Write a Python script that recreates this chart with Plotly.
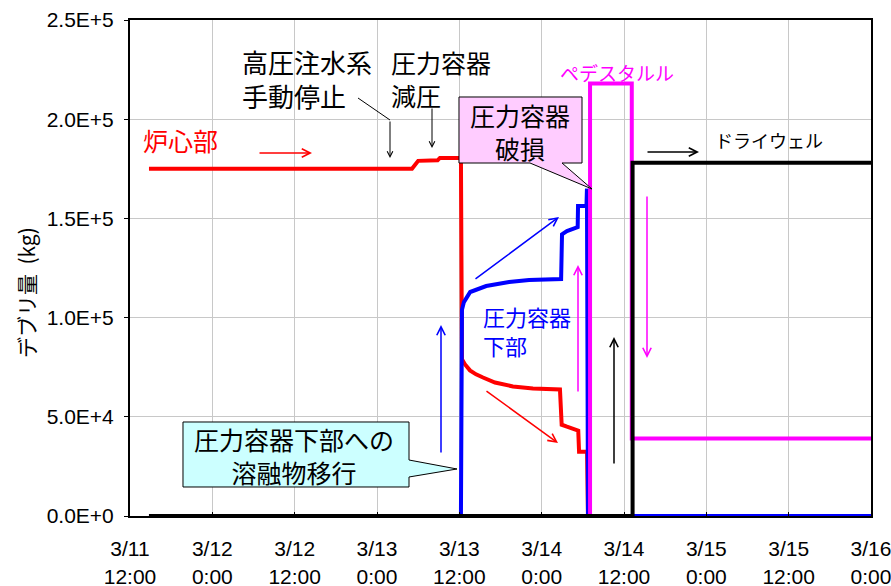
import plotly.graph_objects as go

# ---------------- data ----------------
red_t = ["2011-03-11 14:46", "2011-03-13 05:06", "2011-03-13 06:00", "2011-03-13 08:50",
         "2011-03-13 09:10", "2011-03-13 12:14", "2011-03-13 12:23", "2011-03-13 12:50",
         "2011-03-13 13:33", "2011-03-13 14:26", "2011-03-13 15:27", "2011-03-13 17:12",
         "2011-03-13 19:49", "2011-03-13 22:44", "2011-03-14 02:40", "2011-03-14 02:55",
         "2011-03-14 03:41", "2011-03-14 05:09", "2011-03-14 05:20", "2011-03-14 05:27",
         "2011-03-14 06:37", "2011-03-14 06:45", "2011-03-16 00:00"]
red_v = [175000, 175000, 179000, 179300,
         180500, 180500, 79000, 76400,
         73400, 71400, 69800, 67300,
         65300, 64300, 63800, 46000,
         45000, 43500, 43000, 32400,
         32400, 0, 0]

blue_t = ["2011-03-11 14:46", "2011-03-13 12:14", "2011-03-13 12:23", "2011-03-13 12:40",
          "2011-03-13 13:35", "2011-03-13 15:55", "2011-03-13 19:15", "2011-03-13 22:10",
          "2011-03-14 02:50", "2011-03-14 02:58", "2011-03-14 03:41", "2011-03-14 05:15",
          "2011-03-14 05:18", "2011-03-14 06:32", "2011-03-14 06:36", "2011-03-14 06:45",
          "2011-03-16 00:00"]
blue_v = [0, 0, 104000, 107800,
          112900, 115900, 117900, 118900,
          119400, 142000, 143600, 145600,
          156300, 156300, 165000, 0,
          0]

mag_t = ["2011-03-11 14:46", "2011-03-14 07:03", "2011-03-14 07:03", "2011-03-14 13:08",
         "2011-03-14 13:08", "2011-03-16 00:00"]
mag_v = [0, 0, 218000, 218000, 39000, 39000]

blk_t = ["2011-03-11 14:46", "2011-03-14 13:15", "2011-03-14 13:15", "2011-03-16 00:00"]
blk_v = [0, 0, 178000, 178000]

x_tickvals = ["2011-03-11 12:00", "2011-03-12 00:00", "2011-03-12 12:00", "2011-03-13 00:00",
              "2011-03-13 12:00", "2011-03-14 00:00", "2011-03-14 12:00", "2011-03-15 00:00",
              "2011-03-15 12:00", "2011-03-16 00:00"]
x_ticktext = ["3/11<br>12:00", "3/12<br>0:00", "3/12<br>12:00", "3/13<br>0:00", "3/13<br>12:00",
              "3/14<br>0:00", "3/14<br>12:00", "3/15<br>0:00", "3/15<br>12:00", "3/16<br>0:00"]
y_tickvals = [0, 50000, 100000, 150000, 200000, 250000]
y_ticktext = ["0.0E+0", "5.0E+4", "1.0E+5", "1.5E+5", "2.0E+5", "2.5E+5"]

# ---------------- layout helpers (pixel -> paper) ----------------
L, R, T, B = 130, 871, 20, 516
def X(px):
    return (px - L) / (R - L)
def Y(py):
    return (B - py) / (B - T)

JP = "Noto Sans CJK JP"
NUM = "Liberation Sans, Arial, sans-serif"

fig = go.Figure()
fig.add_trace(go.Scatter(x=red_t, y=red_v, mode="lines", line=dict(color="#FF0000", width=4), showlegend=False))
fig.add_trace(go.Scatter(x=blue_t, y=blue_v, mode="lines", line=dict(color="#0000FF", width=4), showlegend=False))
fig.add_trace(go.Scatter(x=mag_t, y=mag_v, mode="lines", line=dict(color="#FF00FF", width=4), showlegend=False))
fig.add_trace(go.Scatter(x=blk_t, y=blk_v, mode="lines", line=dict(color="#000000", width=4), showlegend=False))

shapes = []
def path(pts):
    return "M " + " L ".join(f"{X(a):.5f},{Y(b):.5f}" for a, b in pts) + " Z"
# pink callout (box + pointer)
shapes.append(dict(type="path", xref="paper", yref="paper", layer="above",
                   path=path([(459, 97), (582, 97), (582, 163), (562, 163), (592, 189), (530, 163), (459, 163)]),
                   fillcolor="#FFCCFF", line=dict(color="#000000", width=1)))
# cyan callout
shapes.append(dict(type="path", xref="paper", yref="paper", layer="above",
                   path=path([(183, 422), (409, 422), (409, 460), (457, 469), (409, 477), (409, 487), (183, 487)]),
                   fillcolor="#CCFFFF", line=dict(color="#000000", width=1)))
# bent leader line
shapes.append(dict(type="line", xref="paper", yref="paper", layer="above",
                   x0=X(358), y0=Y(98), x1=X(390), y1=Y(120), line=dict(color="#000000", width=1)))

ann = []
def text(s, px, py, color="#000000", size=25, xanchor="left", align="left"):
    ann.append(dict(text=s, x=X(px), y=Y(py), xref="paper", yref="paper", showarrow=False,
                    xanchor=xanchor, yanchor="middle", align=align,
                    font=dict(family=JP, size=size, color=color)))
def arrow(tail, tip, color, width=1.5):
    ann.append(dict(text="", x=X(tip[0]), y=Y(tip[1]), xref="paper", yref="paper",
                    ax=tail[0] - tip[0], ay=tail[1] - tip[1], showarrow=True,
                    arrowhead=5, arrowsize=1.1, arrowwidth=width, arrowcolor=color, standoff=0))

text("高圧注水系<br>手動停止", 240, 78, size=26)
text("圧力容器<br>減圧", 389, 78)
text("炉心部", 141, 140, color="#FF0000")
text("圧力容器<br>破損", 520, 131, xanchor="center", align="center")
text("ペデスタルル", 558, 72, color="#FF00FF", size=19)
text("ドライウェル", 713, 140, size=18)
text("圧力容器<br>下部", 481, 330, color="#0000FF", size=22)
text("圧力容器下部への<br>溶融物移行", 294, 455, xanchor="center", align="center")

arrow((258, 153), (312, 153), "#FF0000")
arrow((390, 120), (390, 158), "#000000", 1)
arrow((432, 107), (432, 148), "#000000", 1)
arrow((646, 152), (699, 152), "#000000")
arrow((647, 195), (647, 358), "#FF00FF")
arrow((578, 393), (578, 265), "#FF00FF")
arrow((614, 465), (614, 337), "#000000")
arrow((441, 454), (441, 325), "#0000FF")
arrow((474, 280), (559, 217), "#0000FF")
arrow((485, 390), (558, 443), "#FF0000")

# y-axis title
ann.append(dict(text="デブリ量  (kg)", x=X(26), y=Y(293), xref="paper", yref="paper", showarrow=False,
                textangle=-90, xanchor="center", yanchor="middle",
                font=dict(family=JP, size=21, color="#000000")))

fig.update_layout(
    template="none",
    width=891, height=586,
    margin=dict(l=L, r=891 - R, t=T, b=586 - B, autoexpand=False),
    paper_bgcolor="#FFFFFF", plot_bgcolor="#FFFFFF",
    shapes=shapes, annotations=ann, showlegend=False,
    font=dict(family=NUM, size=21, color="#000000"),
    xaxis=dict(type="date", range=["2011-03-11 12:00", "2011-03-16 00:00"], automargin=False,
               tickvals=x_tickvals, ticktext=x_ticktext, tickmode="array",
               ticklabeloverflow="allow", ticklabelstandoff=13,
               showgrid=True, gridcolor="#C8C8C8", gridwidth=1,
               showline=True, linecolor="#000000", linewidth=2, mirror=True,
               ticks="inside", ticklen=4, tickcolor="#000000",
               tickfont=dict(family=NUM, size=21), zeroline=False),
    yaxis=dict(range=[0, 250000], tickvals=y_tickvals, ticktext=y_ticktext, tickmode="array",
               automargin=False, ticklabelstandoff=6,
               showgrid=True, gridcolor="#C8C8C8", gridwidth=1,
               showline=True, linecolor="#000000", linewidth=2, mirror=True,
               ticks="outside", ticklen=4, tickcolor="#000000",
               tickfont=dict(family=NUM, size=21), zeroline=False),
)

fig.write_html("out.html", config={"displayModeBar": False},
               post_script="document.body.style.margin='0';document.body.style.padding='0';")
